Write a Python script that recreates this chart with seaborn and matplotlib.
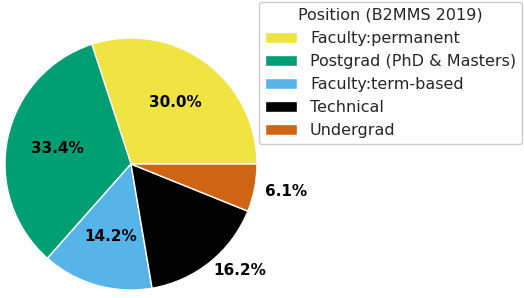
import numpy as np
import matplotlib
matplotlib.use("Agg")
import matplotlib.pyplot as plt
import seaborn as sns

# Data
positions = ["Faculty:permanent", "Postgrad (PhD & Masters)", "Faculty:term-based",
             "Technical", "Undergrad"]
shares = [30.0, 33.4, 14.2, 16.2, 6.1]
colors = ["#F0E442", "#009E73", "#56B4E9", "#000000", "#CF6414"]
# labels of the small slices sit outside: (radius, angle shift in degrees)
outside_labels = {"Technical": (1.21, 6.7), "Undergrad": (1.25, 1.0)}

sns.set_style("white")
plt.rcParams['font.family'] = ['DejaVu Sans']

fig = plt.figure(figsize=(5.24, 2.98), dpi=100)
ax = fig.add_axes([-26.5 / 524, -23.5 / 298, 315 / 524, 315 / 298])

wedges, texts, autotexts = ax.pie(
    shares, colors=colors, startangle=0, autopct="%1.1f%%", pctdistance=0.6,
    wedgeprops={"edgecolor": "white", "linewidth": 1},
    textprops={"fontsize": 11, "fontweight": "bold", "color": "black"},
)

# push labels of the small slices outside the pie
for w, t, name in zip(wedges, autotexts, positions):
    if name in outside_labels:
        r, shift = outside_labels[name]
        mid = np.deg2rad((w.theta1 + w.theta2) / 2 + shift)
        t.set_position((r * np.cos(mid), r * np.sin(mid)))

ax.set_aspect("equal")
ax.axis("off")

fig.legend(wedges, positions, title="Position (B2MMS 2019)", loc="upper right",
           bbox_to_anchor=(1.0, 1.0), fontsize=11.5, title_fontsize=11.5,
           borderaxespad=0.1, framealpha=1)

fig.savefig("out.png", dpi=100)
